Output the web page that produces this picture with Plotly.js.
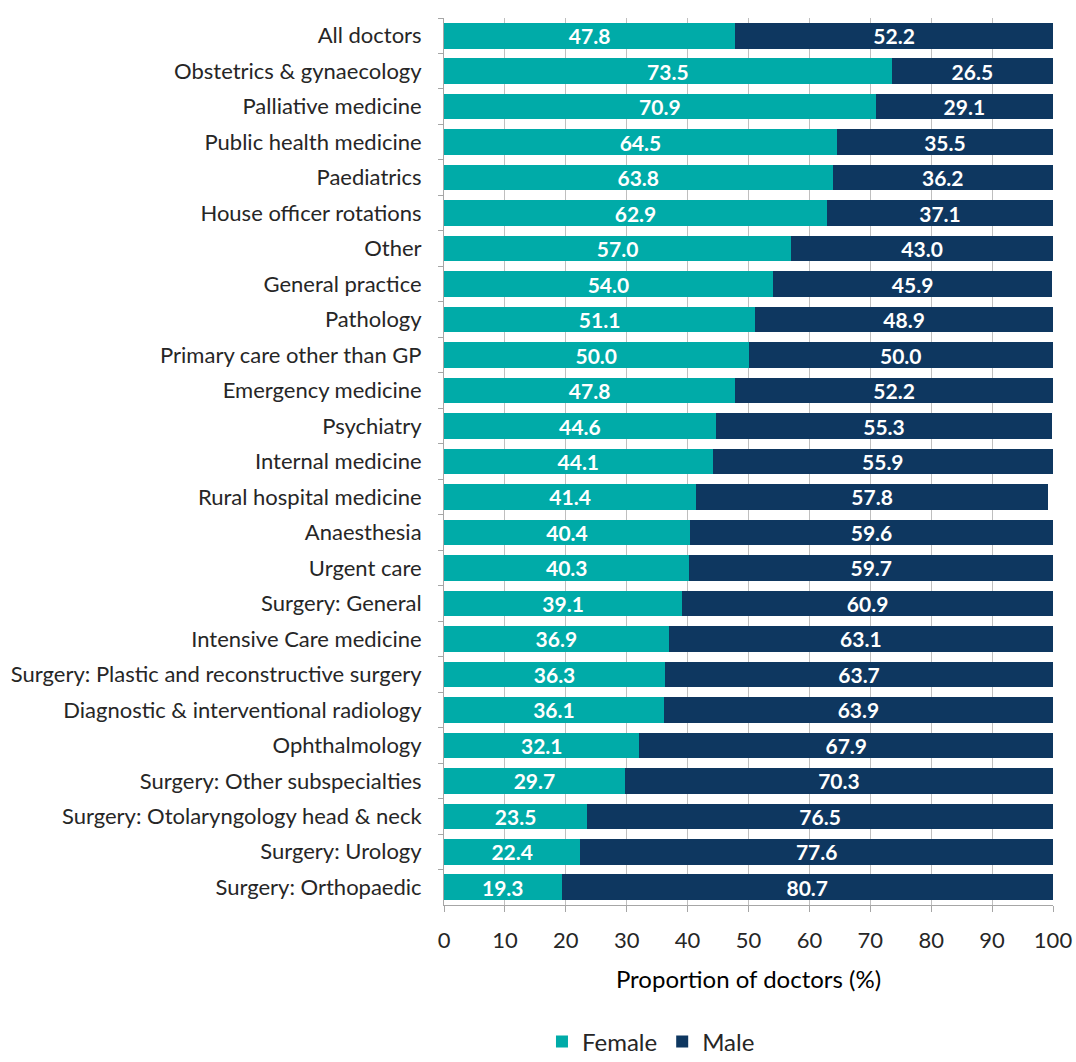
<!DOCTYPE html>
<html>
<head>
<meta charset="utf-8">
<script src="https://cdn.plot.ly/plotly-3.0.1.min.js"></script>
<style>html,body{margin:0;padding:0;background:#fff;}#chart{width:1076px;height:1062px;}</style>
</head>
<body>
<div id="chart"></div>
<script>
const categories = [
  "All doctors",
  "Obstetrics & gynaecology",
  "Palliative medicine",
  "Public health medicine",
  "Paediatrics",
  "House officer rotations",
  "Other",
  "General practice",
  "Pathology",
  "Primary care other than GP",
  "Emergency medicine",
  "Psychiatry",
  "Internal medicine",
  "Rural hospital medicine",
  "Anaesthesia",
  "Urgent care",
  "Surgery: General",
  "Intensive Care medicine",
  "Surgery: Plastic and reconstructive surgery",
  "Diagnostic & interventional radiology",
  "Ophthalmology",
  "Surgery: Other subspecialties",
  "Surgery: Otolaryngology head & neck",
  "Surgery: Urology",
  "Surgery: Orthopaedic"
];
const female = [47.8,73.5,70.9,64.5,63.8,62.9,57.0,54.0,51.1,50.0,47.8,44.6,44.1,41.4,40.4,40.3,39.1,36.9,36.3,36.1,32.1,29.7,23.5,22.4,19.3];
const male   = [52.2,26.5,29.1,35.5,36.2,37.1,43.0,45.9,48.9,50.0,52.2,55.3,55.9,57.8,59.6,59.7,60.9,63.1,63.7,63.9,67.9,70.3,76.5,77.6,80.7];
const xTicks = [0,10,20,30,40,50,60,70,80,90,100];

const FONT = "Lato, 'Open Sans', sans-serif";
const labelFont = {family: FONT, size: 21, color: '#ffffff', weight: 'bold'};

const traces = [
  {type:'bar', orientation:'h', name:'Female', y:categories, x:female,
   marker:{color:'#00ABA8'}, text:female.map(v=>v.toFixed(1)), textposition:'inside',
   insidetextanchor:'middle', constraintext:'none', textfont:labelFont, hoverinfo:'x+y'},
  {type:'bar', orientation:'h', name:'Male', y:categories, x:male,
   marker:{color:'#0E3760'}, text:male.map(v=>v.toFixed(1)), textposition:'inside',
   insidetextanchor:'middle', constraintext:'none', textfont:labelFont, hoverinfo:'x+y'}
];

const layout = {
  width:1076, height:1062,
  margin:{l:444, r:23, t:18, b:157},
  barmode:'stack', bargap:0.28,
  paper_bgcolor:'#ffffff', plot_bgcolor:'#ffffff',
  font:{family:FONT, color:'#222'},
  xaxis:{
    range:[0,100], tickvals:xTicks, ticktext:xTicks.map(String),
    showgrid:true, gridcolor:'#BFBFBF', gridwidth:1,
    showline:true, linecolor:'#A6A6A6', linewidth:1,
    ticks:'outside', ticklen:6, tickcolor:'#A6A6A6',
    tickfont:{family:FONT, size:22, color:'#262626'},
    ticklabelstandoff:10,
    zeroline:false, automargin:false,
    title:{text:'Proportion of doctors (%)', font:{family:FONT, size:24, color:'#000'}, standoff:18}
  },
  yaxis:{
    type:'category', autorange:'reversed',
    showline:true, linecolor:'#A6A6A6', linewidth:1,
    ticks:'outside', ticklen:5, tickcolor:'#A6A6A6', tickson:'boundaries',
    tickfont:{family:FONT, size:22, color:'#262626'},
    showgrid:false, zeroline:false, ticklabelstandoff:17, automargin:false
  },
  showlegend:true,
  legend:{orientation:'h', xref:'container', yref:'container', x:0.605, xanchor:'center', y:0.019, yanchor:'middle',
          font:{family:FONT, size:24, color:'#262626'}, traceorder:'normal', itemwidth:30}
};

Plotly.newPlot('chart', traces, layout, {displayModeBar:false, staticPlot:true});
</script>
</body>
</html>
